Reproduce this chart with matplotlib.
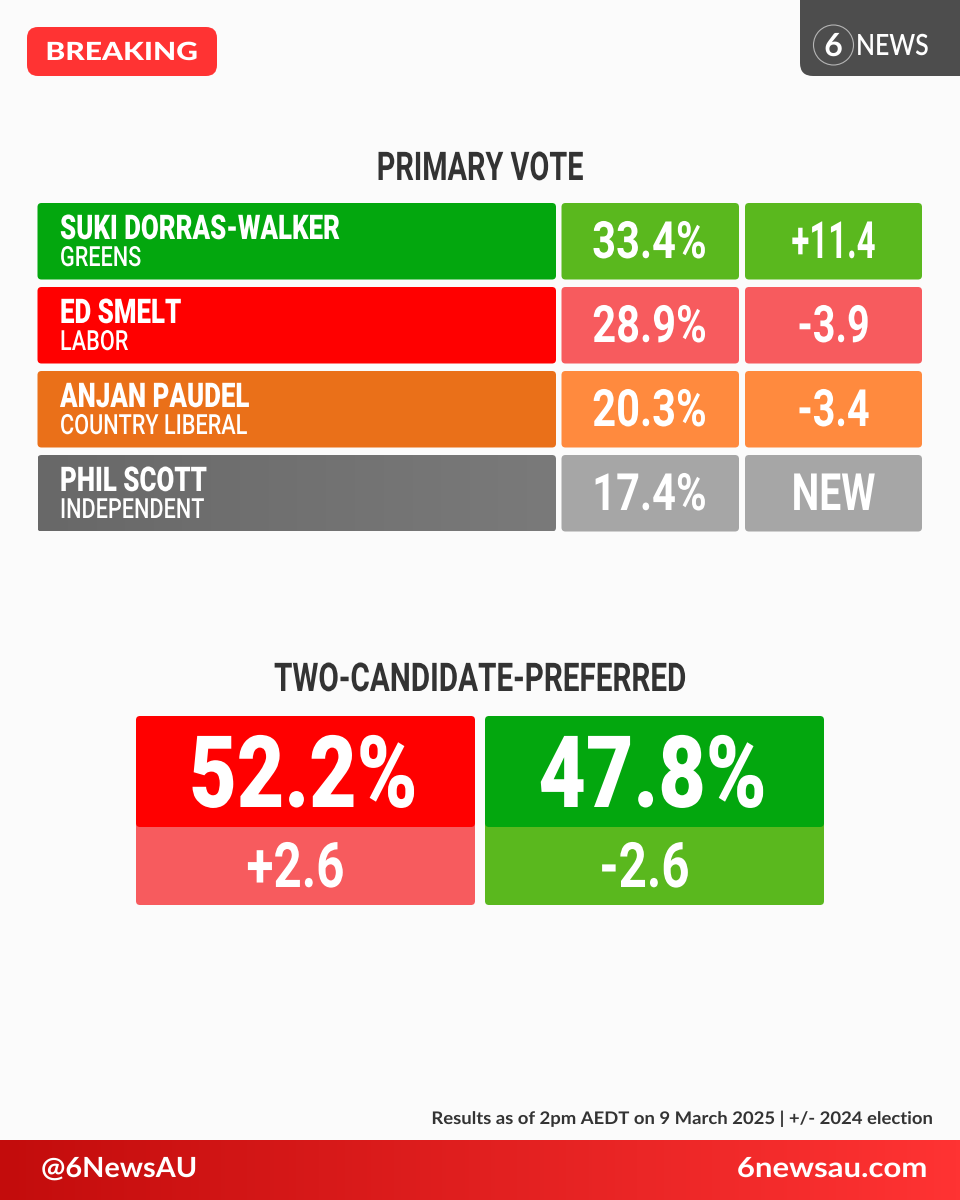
import numpy as np
import matplotlib
matplotlib.use("Agg")
import matplotlib.pyplot as plt
from matplotlib.patches import FancyBboxPatch, Circle
from matplotlib.patheffects import AbstractPathEffect
from matplotlib.transforms import Affine2D
from matplotlib.colors import LinearSegmentedColormap

candidates = ["SUKI DORRAS-WALKER", "ED SMELT", "ANJAN PAUDEL", "PHIL SCOTT"]
parties = ["GREENS", "LABOR", "COUNTRY LIBERAL", "INDEPENDENT"]
primary = ["33.4%", "28.9%", "20.3%", "17.4%"]
swing = ["+11.4", "-3.9", "-3.4", "NEW"]
dark_cols = ["#03a70e", "#ff0000", "#ea7019", "#737373"]
light_cols = ["#5ab81e", "#f75b5e", "#ff8a3e", "#a6a6a6"]
tcp_vals = ["52.2%", "47.8%"]
tcp_swing = ["+2.6", "-2.6"]
tcp_dark = ["#ff0000", "#03a70e"]
tcp_light = ["#f75b5e", "#5ab81e"]
title_primary = "PRIMARY VOTE"
title_tcp = "TWO-CANDIDATE-PREFERRED"
note = "Results as of 2pm AEDT on 9 March 2025 | +/- 2024 election"

COND = ["Roboto", "DejaVu Sans"]
BRAND = ["Lato", "DejaVu Sans"]
INK = "#333333"

fig = plt.figure(figsize=(9.6, 12), dpi=100, facecolor="#fbfbfb")
ax = fig.add_axes([0, 0, 1, 1])
ax.set_xlim(0, 960)
ax.set_ylim(1200, 0)
ax.axis("off")


class Stretch(AbstractPathEffect):
    """Draw a text's glyphs narrower or wider about its anchor x."""

    def __init__(self, anchor_x, sx):
        super().__init__()
        self.anchor_x, self.sx = anchor_x, sx

    def draw_path(self, renderer, gc, tpath, affine, rgbFace=None):
        px = ax.transData.transform((self.anchor_x, 0))[0]
        squeeze = Affine2D().translate(-px, 0).scale(self.sx, 1).translate(px, 0)
        renderer.draw_path(gc, tpath, affine + squeeze, rgbFace)


def box(x0, y0, x1, y1, color, r=4, z=1):
    p = FancyBboxPatch((x0, y0), x1 - x0, y1 - y0,
                       boxstyle=f"round,pad=0,rounding_size={r}",
                       fc=color, ec="none", lw=0, zorder=z)
    ax.add_patch(p)
    return p


def gradient(patch, c0, c1, x0, y0, x1, y1, z=1):
    cmap = LinearSegmentedColormap.from_list("g", [c0, c1])
    im = ax.imshow(np.linspace(0, 1, 256)[None, :], extent=(x0, x1, y1, y0),
                   cmap=cmap, aspect="auto", zorder=z)
    im.set_clip_path(patch)
    ax.set_xlim(0, 960)
    ax.set_ylim(1200, 0)


def label(x, y, s, size, sx=1.0, ha="center", color="white", family=COND, weight="bold", z=5):
    t = ax.text(x, y, s, fontsize=size, ha=ha, va="baseline", color=color,
                family=family, fontweight=weight, zorder=z)
    t.set_path_effects([Stretch(x, sx)])
    return t


# header
box(27, 27, 217, 76, "#ff3333", r=11)
label(121.5, 60, "BREAKING", 18, 1.2, family=BRAND, weight="black")
box(800, -30, 1000, 76, "#4d4d4d", r=13)
ax.add_patch(Circle((833.5, 45), 20, fc="none", ec="#b5b5b5", lw=0.8, zorder=4))
label(833.5, 56, "6", 23, family=BRAND, weight="bold")
label(856, 55, "NEWS", 21, 0.85, ha="left", family=BRAND, weight="semibold")

# primary vote table
label(480, 180, title_primary, 28.5, 0.73, color=INK)
row_top, row_h, row_step = 203, 76.5, 84
swing_sx = [0.64, 0.77, 0.77, 0.76]
for i in range(len(candidates)):
    top = row_top + i * row_step
    bot = top + row_h
    p = box(37.5, top, 556, bot, dark_cols[i])
    if candidates[i] == "PHIL SCOTT":
        p.set_facecolor("none")
        gradient(p, "#686868", "#7a7a7a", 37.5, top, 556, bot)
    box(561.5, top, 739, bot, light_cols[i])
    box(745, top, 922, bot, light_cols[i])
    label(60, top + 36, candidates[i], 24.5, 0.76, ha="left", weight="black")
    label(60, top + 63, parties[i], 20, 0.78, ha="left", weight="medium")
    label(649.5, top + 55, primary[i], 37, 0.81)
    label(833.5, top + 55, swing[i], 37, swing_sx[i])

# two-candidate-preferred
label(480, 691, title_tcp, 28.5, 0.75, color=INK)
xs = [(136, 475), (485, 824)]
for i, (x0, x1) in enumerate(xs):
    box(x0, 810, x1, 905, tcp_light[i], z=1)
    box(x0, 716, x1, 827, tcp_dark[i], z=2)
    cx = (x0 + x1) / 2
    label(cx - 2, 807, tcp_vals[i], 72, 0.82, weight="black")
    label(cx - 10, 887, tcp_swing[i], 45, 0.79)

# footnote
label(933, 1124, note, 12.5, 1.065, ha="right", color=INK, family=BRAND)

# footer band
band = box(-20, 1140, 980, 1240, "none", r=0)
gradient(band, "#c30c0c", "#ff3333", 0, 1140, 960, 1200)
label(41, 1177, "@6NewsAU", 20, 1.04, ha="left", family=BRAND)
label(927, 1177, "6newsau.com", 20, 1.12, ha="right", family=BRAND)

fig.savefig("out.png", dpi=100, facecolor=fig.get_facecolor())
